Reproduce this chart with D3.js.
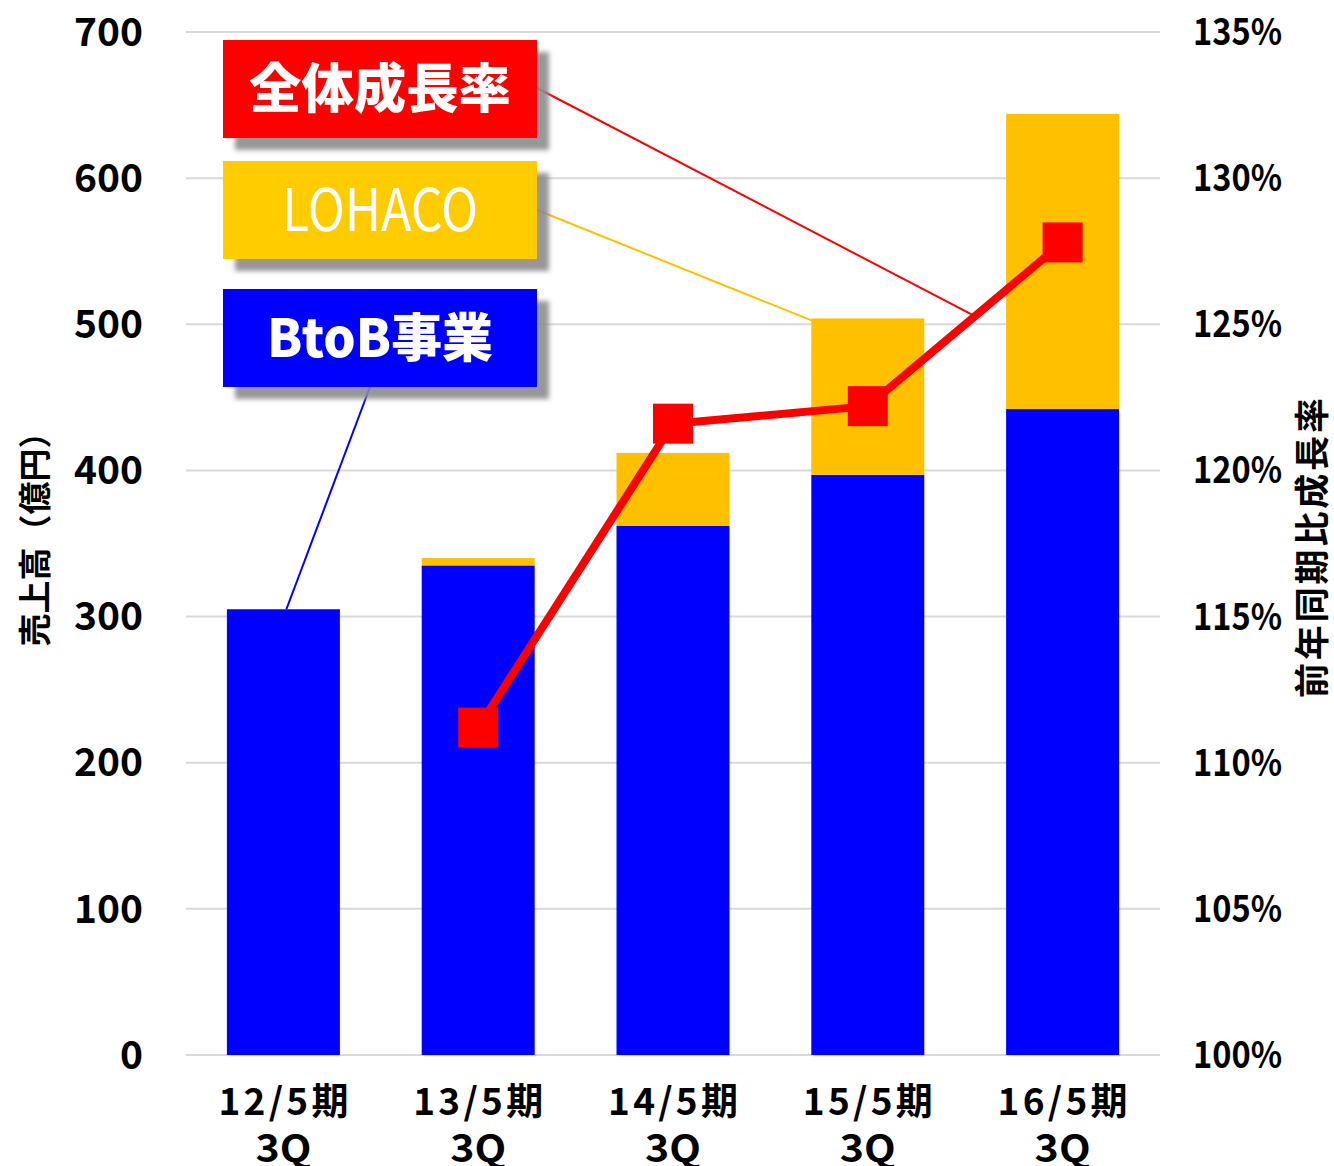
<!DOCTYPE html>
<html>
<head>
<meta charset="utf-8">
<script src="https://cdn.jsdelivr.net/npm/d3@7"></script>
<style>
  body { margin: 0; background: #fff; }
  text { font-family: "Noto Sans CJK JP", "Noto Sans", sans-serif; }
</style>
</head>
<body>
<div id="chart"></div>
<script>
// data
var periods = ["12/5期", "13/5期", "14/5期", "15/5期", "16/5期"];
var quarter = "3Q";
var btob = [305, 335, 362, 397, 442];
var lohaco = [0, 5, 50, 107, 202];
var growth = [null, 111.2, 121.6, 122.2, 127.8];
var leftTicks = [0, 100, 200, 300, 400, 500, 600, 700];
var rightTicks = [100, 105, 110, 115, 120, 125, 130, 135];

var W = 1334, H = 1166;
var margin = {left: 186, right: 174, top: 32, bottom: 111};

var svg = d3.select("#chart").append("svg")
  .attr("width", W).attr("height", H);

var defs = svg.append("defs");
var f = defs.append("filter").attr("id", "shadow")
  .attr("x", "-10%").attr("y", "-10%").attr("width", "130%").attr("height", "140%");
f.append("feDropShadow").attr("dx", 12).attr("dy", 12)
  .attr("stdDeviation", 2.5).attr("flood-color", "#8c8c8c").attr("flood-opacity", 0.9);

var x = d3.scaleBand().domain(periods)
  .range([margin.left, W - margin.right]).paddingInner(0.42).paddingOuter(0.21);
var y = d3.scaleLinear().domain([0, 700]).range([H - margin.bottom, margin.top]);
var y2 = d3.scaleLinear().domain([100, 135]).range([H - margin.bottom, margin.top]);

// gridlines
svg.append("g").selectAll("line").data(leftTicks).enter().append("line")
  .attr("x1", margin.left).attr("x2", W - margin.right)
  .attr("y1", d => y(d)).attr("y2", d => y(d))
  .attr("stroke", "#d9d9d9").attr("stroke-width", 2);

// left axis
svg.append("g").selectAll("text").data(leftTicks).enter().append("text")
  .attr("x", 143).attr("y", d => y(d)).attr("dy", "0.35em")
  .attr("text-anchor", "end").attr("font-size", 39).attr("font-weight", 700)
  .text(d => d);

// right axis
svg.append("g").selectAll("text").data(rightTicks).enter().append("text")
  .attr("x", 1193).attr("y", d => y2(d)).attr("dy", "0.35em")
  .attr("font-size", 37).attr("font-weight", 700)
  .attr("textLength", 89).attr("lengthAdjust", "spacingAndGlyphs")
  .text(d => d + "%");

// axis titles
svg.append("text")
  .attr("transform", "translate(47,531) rotate(-90)")
  .attr("text-anchor", "middle").attr("font-size", 33).attr("font-weight", 700)
  .text("売上高（億円）");
svg.append("text")
  .attr("transform", "translate(1325,548) rotate(-90)")
  .attr("text-anchor", "middle").attr("font-size", 35).attr("font-weight", 700)
  .attr("textLength", 300).attr("lengthAdjust", "spacing")
  .text("前年同期比成長率");

// bars
var bars = svg.append("g");
bars.selectAll("rect.btob").data(btob).enter().append("rect")
  .attr("x", (d, i) => x(periods[i])).attr("width", x.bandwidth())
  .attr("y", d => y(d)).attr("height", d => y(0) - y(d))
  .attr("fill", "#0000ff");
bars.selectAll("rect.lohaco").data(lohaco).enter().append("rect")
  .attr("x", (d, i) => x(periods[i])).attr("width", x.bandwidth())
  .attr("y", (d, i) => y(btob[i] + d)).attr("height", d => y(0) - y(d))
  .attr("fill", "#ffc000");

// x labels
var xl = svg.append("g").selectAll("text").data(periods).enter().append("text")
  .attr("x", d => x(d) + x.bandwidth() / 2).attr("y", 1115)
  .attr("text-anchor", "middle").attr("font-size", 37).attr("font-weight", 700);
xl.append("tspan").attr("x", d => x(d) + x.bandwidth() / 2)
  .attr("textLength", 130).attr("lengthAdjust", "spacing").text(d => d);
xl.append("tspan").attr("x", d => x(d) + x.bandwidth() / 2).attr("dy", 47)
  .attr("font-size", 38).attr("textLength", 56).attr("lengthAdjust", "spacingAndGlyphs")
  .text(quarter);

// growth line
var pts = growth.map((g, i) => g == null ? null : [x(periods[i]) + x.bandwidth() / 2, y2(g)])
  .filter(p => p);
svg.append("path").datum(pts)
  .attr("d", d3.line())
  .attr("fill", "none").attr("stroke", "#ff0000").attr("stroke-width", 8)
  .attr("stroke-linejoin", "round");
svg.append("g").selectAll("rect").data(pts).enter().append("rect")
  .attr("x", d => d[0] - 20).attr("y", d => d[1] - 20)
  .attr("width", 40).attr("height", 40).attr("fill", "#ff0000");

// callout leader lines
var cx = i => x(periods[i]) + x.bandwidth() / 2;
var p3 = pts[2], p4 = pts[3];
var redEnd = [p3[0] + (p4[0] - p3[0]) * 0.55, p3[1] + (p4[1] - p3[1]) * 0.55];
svg.append("line").attr("x1", 537).attr("y1", 88).attr("x2", redEnd[0]).attr("y2", redEnd[1])
  .attr("stroke", "#ff0000").attr("stroke-width", 2);
svg.append("line").attr("x1", 537).attr("y1", 210).attr("x2", cx(3) - 34).attr("y2", y(btob[3] + lohaco[3]) + 11)
  .attr("stroke", "#ffc000").attr("stroke-width", 2);
svg.append("line").attr("x1", 370).attr("y1", 387).attr("x2", cx(0) + 3).attr("y2", y(btob[0]))
  .attr("stroke", "#0000ff").attr("stroke-width", 2);

// callout boxes
var callouts = [
  {label: "全体成長率", fill: "#ff0000", y: 40, weight: 900, size: 53, len: 262},
  {label: "LOHACO", fill: "#ffcc00", y: 161, weight: 400, size: 58, len: 196},
  {label: "BtoB事業", fill: "#0000ff", y: 289, weight: 900, size: 52, len: 226}
];
var cb = svg.append("g").selectAll("g").data(callouts).enter().append("g");
cb.append("rect").attr("x", 223).attr("y", d => d.y).attr("width", 314).attr("height", 98)
  .attr("fill", d => d.fill).attr("filter", "url(#shadow)");
cb.append("text").attr("x", 380).attr("y", d => d.y + 49).attr("dy", "0.36em")
  .attr("text-anchor", "middle").attr("fill", "#fff")
  .attr("font-size", d => d.size).attr("font-weight", d => d.weight)
  .attr("textLength", d => d.len).attr("lengthAdjust", "spacingAndGlyphs")
  .text(d => d.label);
</script>
</body>
</html>
